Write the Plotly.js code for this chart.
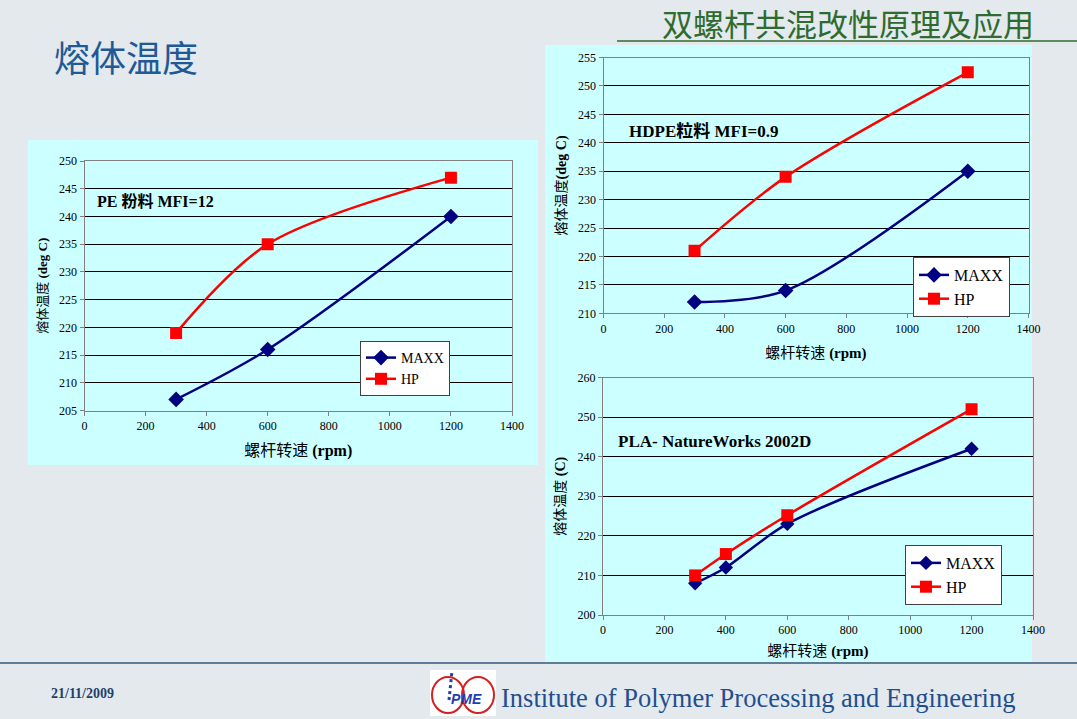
<!DOCTYPE html>
<html><head><meta charset="utf-8">
<script src="https://cdn.plot.ly/plotly-3.0.1.min.js"></script>
<style>html,body{margin:0;padding:0;background:#e3e9ed;}#c{width:1077px;height:719px;}</style>
</head><body><div id="c"></div>
<script>
// ---- data ----
const peSpeed = [300, 600, 1200];
const peMaxx = [207, 216, 240];
const peHp = [219, 235, 247];

const hdpeSpeed = [300, 600, 1200];
const hdpeMaxx = [212, 214, 235];
const hdpeHp = [221, 234, 252.4];

const plaSpeed = [300, 400, 600, 1200];
const plaMaxx = [208, 212, 223, 242];
const plaHp = [210, 215.4, 225.2, 252];

const seriesNames = ['MAXX', 'HP'];
const chartLabels = ['PE 粉料 MFI=12', 'HDPE粒料 MFI=0.9', 'PLA- NatureWorks 2002D'];
const xTitle = '螺杆转速 <b>(rpm)</b>';
const yTitles = ['熔体温度 <b>(deg C)</b>', '熔体温度<b>(deg C)</b>', '熔体温度 <b>(C)</b>'];

// ---- helpers ----
const W = 1077, H = 719;
const px = x => x / W, py = y => 1 - y / H;
const serif = 'Liberation Serif, Times New Roman, Noto Sans CJK SC, serif';
const cjk = 'Noto Sans CJK SC, sans-serif';
const navy = '#000080', red = '#ff0000';

function mk(x, y, name, idx, color, sym, msize, legend) {
  return {
    x: x, y: y, name: name, type: 'scatter', mode: 'lines+markers',
    xaxis: 'x' + (idx === 1 ? '' : idx), yaxis: 'y' + (idx === 1 ? '' : idx),
    line: {color: color, width: 2.5, shape: 'spline', smoothing: 0.9},
    marker: {color: color, symbol: sym, size: msize},
    legend: legend, showlegend: true
  };
}

const traces = [
  mk(peSpeed, peMaxx, seriesNames[0], 1, navy, 'diamond', 12, 'legend'),
  mk(peSpeed, peHp, seriesNames[1], 1, red, 'square', 12, 'legend'),
  mk(hdpeSpeed, hdpeMaxx, seriesNames[0], 2, navy, 'diamond', 12, 'legend2'),
  mk(hdpeSpeed, hdpeHp, seriesNames[1], 2, red, 'square', 12, 'legend2'),
  mk(plaSpeed, plaMaxx, seriesNames[0], 3, navy, 'diamond', 11, 'legend3'),
  mk(plaSpeed, plaHp, seriesNames[1], 3, red, 'square', 12, 'legend3')
];

function xax(domain, anchor, standoff, tsize) {
  return {
    domain: domain, anchor: anchor, range: [0, 1400], dtick: 200, tick0: 0,
    showgrid: false, zeroline: false, showline: true, linecolor: '#808080', linewidth: 1,
    mirror: true, ticks: 'outside', ticklen: 4, tickcolor: '#808080',
    tickfont: {family: serif, size: 12, color: '#000'},
    title: {text: xTitle, font: {family: serif, size: tsize, color: '#000'}, standoff: standoff},
    fixedrange: true
  };
}
function yax(domain, anchor, range, dtick, title, standoff, tsize) {
  return {
    domain: domain, anchor: anchor, range: range, dtick: dtick, tick0: range[0],
    showgrid: true, gridcolor: '#000', gridwidth: 1, zeroline: false,
    showline: true, linecolor: '#808080', linewidth: 1, mirror: true,
    ticks: 'outside', ticklen: 4, tickcolor: '#808080',
    tickfont: {family: serif, size: 12, color: '#000'},
    title: {text: title, font: {family: serif, size: tsize, color: '#000'}, standoff: standoff},
    fixedrange: true
  };
}

const legendStyle = (x, y, fs) => ({
  x: px(x), y: py(y), xanchor: 'left', yanchor: 'top', xref: 'paper', yref: 'paper',
  bgcolor: '#ffffff', bordercolor: '#404040', borderwidth: 1,
  font: {family: serif, size: fs, color: '#000'}, itemwidth: 30, tracegroupgap: 0
});

const layout = {
  width: W, height: H, margin: {l: 0, r: 0, t: 0, b: 0},
  paper_bgcolor: '#e3e9ed', plot_bgcolor: 'rgba(0,0,0,0)',
  showlegend: true,
  xaxis: xax([px(84.5), px(512)], 'y', 12, 16),
  yaxis: yax([py(410.5), py(161)], 'x', [205, 250], 5, yTitles[0], 8, 13),
  xaxis2: xax([px(603.5), px(1028.5)], 'y2', 12, 15),
  yaxis2: yax([py(313.3), py(57.5)], 'x2', [210, 255], 5, yTitles[1], 8, 14),
  xaxis3: xax([px(603), px(1033)], 'y3', 9, 15),
  yaxis3: yax([py(615), py(377.5)], 'x3', [200, 260], 10, yTitles[2], 8, 14),
  legend: legendStyle(360, 341, 14),
  legend2: legendStyle(913, 257, 16),
  legend3: legendStyle(905, 545, 16),
  shapes: [
    {type: 'rect', xref: 'paper', yref: 'paper', x0: px(28), x1: px(538), y0: py(465), y1: py(140),
     fillcolor: '#ccffff', line: {width: 0}, layer: 'below'},
    {type: 'rect', xref: 'paper', yref: 'paper', x0: px(545), x1: px(1032), y0: py(662), y1: py(45),
     fillcolor: '#ccffff', line: {width: 0}, layer: 'below'},
    {type: 'line', xref: 'paper', yref: 'paper', x0: px(617), x1: px(1077), y0: py(41), y1: py(41),
     line: {color: '#2e6b2e', width: 1.5}},
    {type: 'line', xref: 'paper', yref: 'paper', x0: 0, x1: 1, y0: py(663), y1: py(663),
     line: {color: '#5f7d99', width: 2}},
    // logo
    {type: 'rect', xref: 'paper', yref: 'paper', x0: px(430), x1: px(496), y0: py(716), y1: py(670),
     fillcolor: '#ffffff', line: {width: 0}},
    {type: 'circle', xref: 'paper', yref: 'paper', x0: px(432), x1: px(464), y0: py(713), y1: py(677),
     line: {color: '#d42020', width: 2}},
    {type: 'circle', xref: 'paper', yref: 'paper', x0: px(462), x1: px(494), y0: py(713), y1: py(677),
     line: {color: '#d42020', width: 2}},
    {type: 'line', xref: 'paper', yref: 'paper', x0: px(449), x1: px(452), y0: py(700), y1: py(671),
     line: {color: '#1f3fb0', width: 3, dash: 'dot'}}
  ],
  annotations: [
    {text: '熔体温度', x: px(52), y: py(56), xref: 'paper', yref: 'paper', xanchor: 'left', yanchor: 'middle',
     showarrow: false, font: {family: cjk, size: 36, color: '#1f5a96'}},
    {text: '双螺杆共混改性原理及应用', x: px(1036), y: py(22), xref: 'paper', yref: 'paper', xanchor: 'right', yanchor: 'middle',
     showarrow: false, font: {family: cjk, size: 31, color: '#2e6b2e'}},
    {text: '<b>' + chartLabels[0] + '</b>', x: px(95), y: py(202), xref: 'paper', yref: 'paper', xanchor: 'left', yanchor: 'middle',
     showarrow: false, font: {family: serif, size: 16, color: '#000'}},
    {text: '<b>' + chartLabels[1] + '</b>', x: px(627), y: py(131), xref: 'paper', yref: 'paper', xanchor: 'left', yanchor: 'middle',
     showarrow: false, font: {family: serif, size: 17, color: '#000'}},
    {text: '<b>' + chartLabels[2] + '</b>', x: px(616), y: py(441), xref: 'paper', yref: 'paper', xanchor: 'left', yanchor: 'middle',
     showarrow: false, font: {family: serif, size: 17, color: '#000'}},
    {text: '<b>21/11/2009</b>', x: px(49), y: py(693), xref: 'paper', yref: 'paper', xanchor: 'left', yanchor: 'middle',
     showarrow: false, font: {family: serif, size: 14, color: '#1f3f6f'}},
    {text: '<b><i>PME</i></b>', x: px(466), y: py(699), xref: 'paper', yref: 'paper', xanchor: 'center', yanchor: 'middle',
     showarrow: false, font: {family: 'Liberation Sans, Arial, sans-serif', size: 14, color: '#1f3fb0'}},
    {text: 'Institute of Polymer Processing and Engineering', x: px(499), y: py(698), xref: 'paper', yref: 'paper', xanchor: 'left', yanchor: 'middle',
     showarrow: false, font: {family: serif, size: 26.5, color: '#1f4f8f'}}
  ]
};

Plotly.newPlot('c', traces, layout, {displayModeBar: false, staticPlot: true});
</script>
</body></html>
